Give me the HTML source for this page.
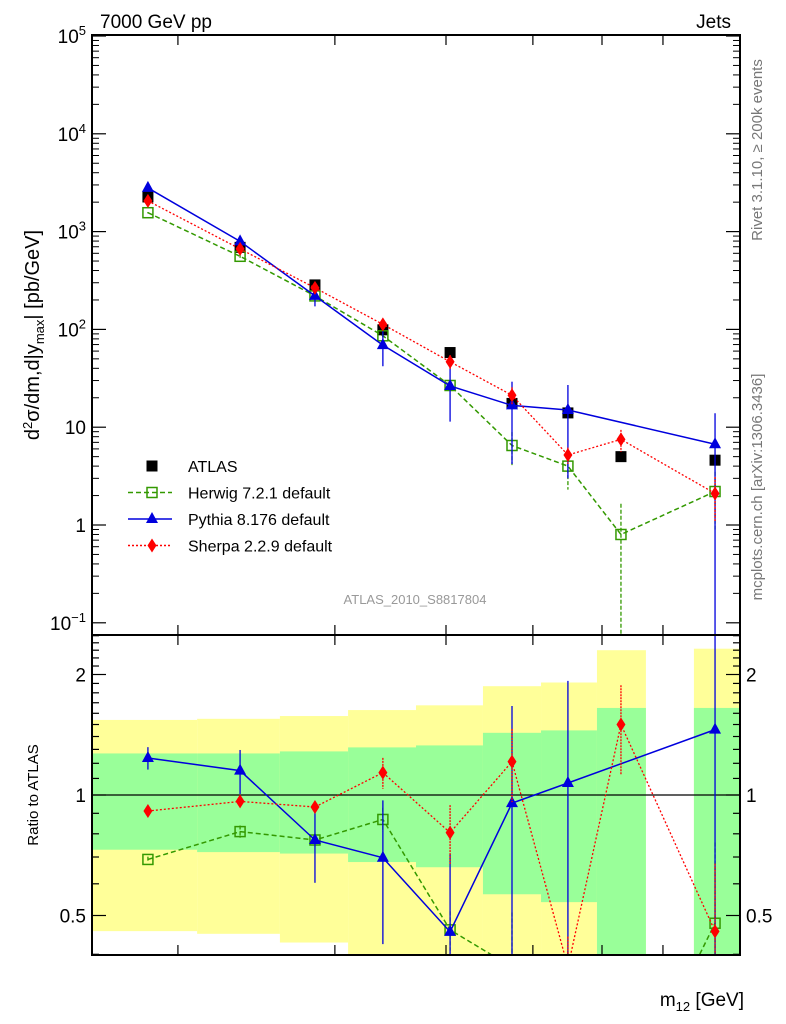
<!DOCTYPE html>
<html><head><meta charset="utf-8">
<style>
html,body{margin:0;padding:0;background:#fff;overflow:hidden;width:786px;height:1024px;}
svg{display:block;font-family:"Liberation Sans",sans-serif;}
</style></head>
<body>
<svg id="c" width="786" height="1024" viewBox="0 0 786 1024" xmlns="http://www.w3.org/2000/svg">
<text x="100" y="28" font-size="19">7000 GeV pp</text>
<text x="731" y="28" font-size="19" text-anchor="end">Jets</text>
<text transform="translate(762,150) rotate(-90)" font-size="15" fill="#777" text-anchor="middle">Rivet 3.1.10, ≥ 200k events</text>
<text transform="translate(762,487) rotate(-90)" font-size="15" fill="#777" text-anchor="middle">mcplots.cern.ch [arXiv:1306.3436]</text>
<text x="415" y="604" font-size="13" fill="#999" text-anchor="middle">ATLAS_2010_S8817804</text>
<text transform="translate(39,335) rotate(-90)" font-size="20" text-anchor="middle">d<tspan font-size="13" dy="-7">2</tspan><tspan dy="7">σ/dm,d|y</tspan><tspan font-size="13" dy="5">max</tspan><tspan dy="-5">| [pb/GeV]</tspan></text>
<text transform="translate(38,795) rotate(-90)" font-size="15" text-anchor="middle">Ratio to ATLAS</text>
<text x="744" y="1006" font-size="19" text-anchor="end">m<tspan font-size="13" dy="5">12</tspan><tspan dy="-5"> [GeV]</tspan></text>
<g id="bands"></g><g id="marks"></g><g id="axes"></g><g id="legend"></g>
</svg>
<script>
// ---- data ----
const binLo = [256, 698, 1043, 1327, 1610, 1889, 2131, 2364, 2768];
const binHi = [698, 1043, 1327, 1610, 1889, 2131, 2364, 2568, 2956];
const binCenter = [493, 877, 1189, 1472, 1752, 2010, 2243, 2464, 2856];
const atlas = [2260, 690, 285, 99, 58, 17.5, 14, 5.0, 4.6];
const herwig = [1560, 559, 220, 86, 26.7, 6.5, 4.0, 0.8, 2.2];
const herwigErr = [25, 20, 8, 6, 3, 2.4, 1.7, 0.85, 1.3];
const pythia = [2796, 794, 220, 69, 26.4, 16.7, 15.0, null, 6.7];
const pythiaErr = [180, 100, 48, 27, 15, 12.5, 12, null, 7.2];
const sherpa = [2061, 665, 266, 112.6, 46.7, 21.2, 5.2, 7.5, 2.1];
const sherpaErr = [40, 15, 8, 10, 8, 4.4, 1.0, 1.9, 1.0];
const bandYellowHi = [1.54, 1.55, 1.575, 1.63, 1.675, 1.87, 1.91, 2.3, 2.32];
const bandGreenHi = [1.27, 1.27, 1.285, 1.315, 1.33, 1.43, 1.45, 1.65, 1.65];
const bandGreenLo = [0.73, 0.72, 0.714, 0.68, 0.66, 0.565, 0.54, 0.3, 0.3];
const bandYellowLo = [0.457, 0.45, 0.428, 0.35, 0.35, 0.3, 0.3, 0.25, 0.25];
const xTicks = [618, 1272, 1735, 2097, 2385, 2639];
const yDecades = [-1, 0, 1, 2, 3, 4, 5];
const yDecadeLabels = ["10", "1", "10", "10", "10", "10", "10"];
const yDecadeExp = ["−1", "", "", "2", "3", "4", "5"];
const ratioLabels = [0.5, 1, 2];

// ---- scales ----
const X0=92, X1=740, T0=35, T1=635, R1=955;
const sx = m => X0 + (m-260)*0.24;
const sy = v => 525 - Math.log10(v)*97.8;
const sr = r => 795 - Math.log2(r)*120.5;
const NS="http://www.w3.org/2000/svg";
function el(tag, attrs, parent){const e=document.createElementNS(NS,tag);for(const k in attrs)e.setAttribute(k,attrs[k]);parent.appendChild(e);return e;}
const gB=document.getElementById('bands'), gM=document.getElementById('marks'), gA=document.getElementById('axes'), gL=document.getElementById('legend');
const clampR = y => Math.max(T1, Math.min(R1, y));
const clampT = y => Math.max(T0, Math.min(T1, y));

for(let i=0;i<binLo.length;i++){
  const x=sx(binLo[i]), w=sx(binHi[i])-x;
  const y1=clampR(sr(bandYellowHi[i])), y2=clampR(sr(bandYellowLo[i]));
  let r=el('rect',{x:x,y:y1,width:w,height:y2-y1,fill:'#ffff99'},gB);
  
  
  const g1=clampR(sr(bandGreenHi[i])), g2=clampR(sr(bandGreenLo[i]));
  r=el('rect',{x:x,y:g1,width:w,height:g2-g1,fill:'#99ff99'},gB);
  
  
}
el('line',{x1:X0,x2:X1,y1:sr(1),y2:sr(1),stroke:'#000','stroke-width':1.2},gB);

function marker(type,x,y,color,name,parent){
  parent=parent||gM;
  let m;
  if(type==='sq') m=el('rect',{x:x-5.5,y:y-5.5,width:11,height:11,fill:'#000'},parent);
  else if(type==='osq') m=el('rect',{x:x-5,y:y-5,width:10,height:10,fill:'none',stroke:color,'stroke-width':1.5},parent);
  else if(type==='tri') m=el('polygon',{points:`${x},${y-7} ${x-6},${y+4} ${x+6},${y+4}`,fill:color},parent);
  else m=el('polygon',{points:`${x},${y-7} ${x-4.5},${y} ${x},${y+7} ${x+4.5},${y}`,fill:color},parent);
  
  
  return m;
}
function series(vals,errs,color,dash,type,name,ratio){
  const ys = ratio ? (v,i)=>sr(v/atlas[i]) : (v)=>sy(v);
  const cl = ratio ? clampR : clampT;
  const lo = ratio ? T1 : T0, hi = ratio ? R1 : T1;
  let pts=[];
  vals.forEach((v,i)=>{ if(v!=null) pts.push([sx(binCenter[i]), ys(v,i)]); });
  const clip = ratio ? 'url(#clipR)' : 'url(#clipT)';
  const p=el('polyline',{points:pts.map(p=>p.join(',')).join(' '),fill:'none',stroke:color,'stroke-width':dash==='dot'?1.3:1.5,'stroke-dasharray':dash==='dash'?'5,3':(dash==='dot'?'2,2':'none'),'clip-path':clip},gM);
  
  
  vals.forEach((v,i)=>{
    if(v==null) return;
    const x=sx(binCenter[i]);
    const e=errs[i];
    const yt = ratio ? sr((v+e)/atlas[i]) : sy(v+e);
    const yb = (v-e)>0 ? (ratio ? sr((v-e)/atlas[i]) : sy(v-e)) : hi;
    const l=el('line',{x1:x,x2:x,y1:cl(yt),y2:cl(yb),stroke:color,'stroke-width':1.3,'stroke-dasharray':dash==='dot'?'2,1':(dash==='dash'?'4,2':'none')},gM);
    
    
    const y=ys(v,i);
    if(y>=lo && y<=hi) marker(type,x,y,color,name+'-point');
  });
}
const defs=el('defs',{},document.getElementById('c'));
el('rect',{x:X0,y:T0,width:X1-X0,height:T1-T0},el('clipPath',{id:'clipT'},defs));
el('rect',{x:X0,y:T1,width:X1-X0,height:R1-T1},el('clipPath',{id:'clipR'},defs));

atlas.forEach((v,i)=>marker('sq',sx(binCenter[i]),sy(v),'#000','atlas-point'));
series(herwig,herwigErr,'#339900','dash','osq','herwig',false);
series(pythia,pythiaErr,'#0000dd','solid','tri','pythia',false);
series(sherpa,sherpaErr,'#ff0000','dot','dia','sherpa',false);
series(herwig,herwigErr,'#339900','dash','osq','herwig',true);
series(pythia,pythiaErr,'#0000dd','solid','tri','pythia',true);
series(sherpa,sherpaErr,'#ff0000','dot','dia','sherpa',true);

el('rect',{x:X0,y:T0,width:X1-X0,height:T1-T0,fill:'none',stroke:'#000','stroke-width':2},gA);
el('rect',{x:X0,y:T1,width:X1-X0,height:R1-T1,fill:'none',stroke:'#000','stroke-width':2},gA);
yDecades.forEach((d,i)=>{
  const y=sy(Math.pow(10,d));
  if(y>=T0-1&&y<=T1){
    el('line',{x1:X0,x2:X0+14,y1:y,y2:y,stroke:'#000','stroke-width':1.2},gA);
    el('line',{x1:X1-14,x2:X1,y1:y,y2:y,stroke:'#000','stroke-width':1.2},gA);
    const t=el('text',{x:X0-6,y:y+7,'font-size':19,'text-anchor':'end'},gA);
    
    
    if(yDecadeExp[i]){t.textContent=yDecadeLabels[i];const s=el('tspan',{'font-size':13,dy:-8},t);s.textContent=yDecadeExp[i];t.setAttribute('x',X0-6);}
    else t.textContent=yDecadeLabels[i];
  }
  for(let k=2;k<10;k++){
    const ym=sy(k*Math.pow(10,d));
    if(ym>T0&&ym<T1){
      el('line',{x1:X0,x2:X0+7,y1:ym,y2:ym,stroke:'#000','stroke-width':1},gA);
      el('line',{x1:X1-7,x2:X1,y1:ym,y2:ym,stroke:'#000','stroke-width':1},gA);
    }
  }
});
for(let r=0.3;r<=2.5;r=Math.round((r+0.1)*10)/10){
  const y=sr(r); if(y<=T1||y>=R1) continue;
  const major=ratioLabels.includes(r);
  const L=major?14:7;
  el('line',{x1:X0,x2:X0+L,y1:y,y2:y,stroke:'#000','stroke-width':1.2},gA);
  el('line',{x1:X1-L,x2:X1,y1:y,y2:y,stroke:'#000','stroke-width':1.2},gA);
}
ratioLabels.forEach(r=>{
  const y=sr(r);
  let t=el('text',{x:X0-6,y:y+7,'font-size':19,'text-anchor':'end'},gA);t.textContent=String(r);
  
  
  t=el('text',{x:X1+6,y:y+7,'font-size':19},gA);t.textContent=String(r);
  
  
});
xTicks.forEach(m=>{
  const x=sx(m);
  [[T0,1],[T1,-1],[T1,1],[R1,-1]].forEach(([y,s])=>el('line',{x1:x,x2:x,y1:y,y2:y+s*10,stroke:'#000','stroke-width':1.2},gA));
});

const legNames=['ATLAS','Herwig 7.2.1 default','Pythia 8.176 default','Sherpa 2.2.9 default'];
const legCols=['#000','#339900','#0000dd','#ff0000'];
const legTypes=['sq','osq','tri','dia'];
const legDash=['none','5,3','none','2,2'];
legNames.forEach((n,i)=>{
  const y=466+i*26.5;
  if(i>0){const l=el('line',{x1:128,x2:172,y1:y,y2:y,stroke:legCols[i],'stroke-width':1.4,'stroke-dasharray':legDash[i]},gL);
    
    }
  marker(legTypes[i],152,y,legCols[i],'legend-marker',gL);
  const t=el('text',{x:188,y:y+6,'font-size':16},gL);t.textContent=n;
  
  
});
</script>
</body></html>
